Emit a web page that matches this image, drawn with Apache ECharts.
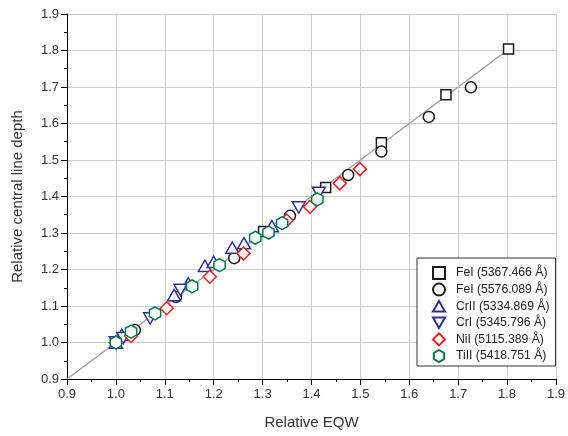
<!DOCTYPE html>
<html>
<head>
<meta charset="utf-8">
<script src="https://cdn.jsdelivr.net/npm/echarts@6/dist/echarts.min.js"></script>
<style>
html,body{margin:0;padding:0;background:#fff;}
#chart{width:568px;height:436px;}
</style>
</head>
<body>
<div id="chart"></div>
<script>
// Data (x = relative EQW, y = relative central line depth)
const seriesNames = ['FeI (5367.466 Å)', 'FeI (5576.089 Å)', 'CrII (5334.869 Å)', 'CrI (5345.796 Å)', 'NiI (5115.389 Å)', 'TiII (5418.751 Å)'];
const feI5367 = [[1.0,1.0],[1.302,1.304],[1.429,1.425],[1.543,1.547],[1.675,1.679],[1.803,1.804]];
const feI5576 = [[1.0,1.0],[1.039,1.034],[1.123,1.125],[1.242,1.231],[1.356,1.347],[1.475,1.459],[1.543,1.523],[1.640,1.618],[1.726,1.699]];
const crII5334 = [[1.0,1.0],[1.012,1.021],[1.119,1.130],[1.148,1.162],[1.182,1.210],[1.200,1.221],[1.238,1.260],[1.262,1.272],[1.319,1.319]];
const crI5345 = [[1.0,1.0],[1.015,1.012],[1.070,1.066],[1.132,1.144],[1.374,1.370],[1.415,1.410]];
const niI5115 = [[1.0,1.0],[1.031,1.018],[1.104,1.094],[1.192,1.180],[1.261,1.244],[1.349,1.334],[1.397,1.372],[1.458,1.436],[1.499,1.475]];
const tiII5418 = [[1.0,1.0],[1.031,1.030],[1.080,1.080],[1.156,1.154],[1.212,1.212],[1.285,1.287],[1.312,1.301],[1.340,1.327],[1.412,1.392]];
const fitLine = [[0.9,0.9],[1.8,1.8]];

const hexPath = 'path://M0,-1L0.866,-0.5L0.866,0.5L0,1L-0.866,0.5L-0.866,-0.5Z';
const downTri = 'path://M-1,-0.866L1,-0.866L0,0.866Z';
const upTri = 'path://M-1,0.866L1,0.866L0,-0.866Z';

function sc(name, data, symbol, size, color){
  return {
    name: name, type: 'scatter', data: data, symbol: symbol, symbolSize: size,
    symbolKeepAspect: true,
    itemStyle: {color: '#ffffff', borderColor: color, borderWidth: 1.5, opacity: 1},
    emphasis: {disabled: true}, z: 3
  };
}

const chart = echarts.init(document.getElementById('chart'), null, {renderer: 'canvas'});
const axisCommon = {
  type: 'value', min: 0.9, max: 1.9, interval: 0.1,
  axisLine: {show: true, onZero: false, lineStyle: {color: '#000', width: 1}},
  axisTick: {show: true, inside: false, length: 6, lineStyle: {color: '#000'}},
  minorTick: {show: true, splitNumber: 2, length: 3, lineStyle: {color: '#000'}},
  splitLine: {show: true, lineStyle: {color: '#cccccc', width: 1}},
  axisLabel: {color: '#333', fontSize: 13, fontFamily: 'Liberation Sans, Arial', formatter: v => v.toFixed(1)},
  nameLocation: 'middle',
  nameTextStyle: {color: '#333', fontSize: 15, fontFamily: 'Liberation Sans, Arial'}
};
chart.setOption({
  animation: false,
  backgroundColor: '#fff',
  grid: {left: 67, right: 12, top: 14, bottom: 57, containLabel: false},
  xAxis: Object.assign({}, axisCommon, {name: 'Relative EQW', nameGap: 36,
    axisLabel: Object.assign({}, axisCommon.axisLabel, {margin: 9})}),
  yAxis: Object.assign({}, axisCommon, {name: 'Relative central line depth', nameGap: 42,
    axisLabel: Object.assign({}, axisCommon.axisLabel, {margin: 8})}),
  legend: {
    data: seriesNames, orient: 'vertical', left: 417, top: 258,
    padding: [8, 6, 3, 15], itemGap: 2.6, itemWidth: 12, itemHeight: 12,
    backgroundColor: '#fff', borderColor: '#333', borderWidth: 1,
    textStyle: {color: '#222', fontSize: 12.2, lineHeight: 14, fontFamily: 'Liberation Sans, Arial', padding: [0, 0, 0, 6]},
    selectedMode: false
  },
  series: [
    {name: 'fit', type: 'line', data: fitLine, symbol: 'none', z: 1,
     lineStyle: {color: '#9a9a9a', width: 1.2}, emphasis: {disabled: true}, silent: true},
    sc(seriesNames[0], feI5367, 'rect', 10, '#1a1a1a'),
    sc(seriesNames[1], feI5576, 'circle', 11, '#1a1a1a'),
    sc(seriesNames[2], crII5334, upTri, 13, '#2e2e9c'),
    sc(seriesNames[3], crI5345, downTri, 13, '#2e2e9c'),
    sc(seriesNames[4], niI5115, 'diamond', 13, '#ee1c24'),
    sc(seriesNames[5], tiII5418, hexPath, 13, '#007a4a')
  ]
});
</script>
</body>
</html>
